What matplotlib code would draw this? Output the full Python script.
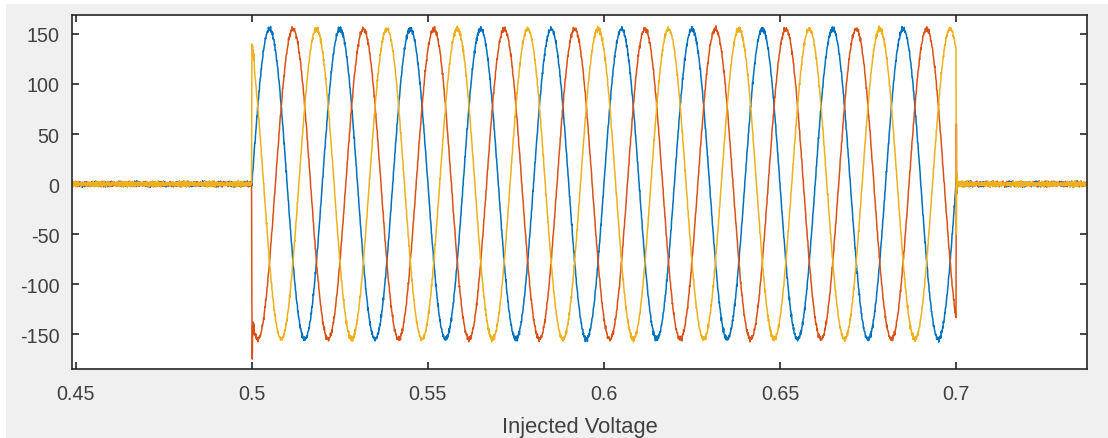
import numpy as np
import matplotlib
matplotlib.use("Agg")
import matplotlib.pyplot as plt
from matplotlib.patches import Rectangle

# Injection window and waveform parameters (seconds, volts, hertz)
t_on = 0.5
t_off = 0.7
amplitude = 155.0
freq = 50.0
phase_shift_deg = [0.0, -120.0, 120.0]
sample_step = 1e-4

# Measurement ripple per phase: amplitudes (V) and frequencies (Hz)
ripple_amp = [[1.4, 1.1, 0.9], [1.3, 1.2, 0.8], [1.5, 1.0, 1.0]]
ripple_freq = [[4871.0, 3317.0, 1973.0], [4793.0, 2941.0, 1187.0], [4937.0, 3701.0, 2203.0]]

# Switching transients: offsets after the event (s) and the recorded values (V)
on_offsets = [0.0, 0.0001, 0.0002, 0.0003, 0.0004, 0.0005, 0.0006]
on_red = [-120.0, -175.0, -142.0, -150.0, -138.0, -146.0, -140.0]
on_yellow = [140.0, 136.0, 138.0, 128.0, 134.0, 124.0, 130.0]
off_offsets = [0.0001, 0.0002, 0.0003, 0.0004, 0.0005]
off_red = [60.0, -10.0, 8.0, -4.0, 2.0]
off_yellow = [-50.0, 12.0, -6.0, 3.0, 0.0]
off_blue = [6.0, -3.0, 2.0, 0.0, 0.0]

xlim = (0.4489, 0.7372)
ylim = (-185, 169)
xticks = [0.45, 0.5, 0.55, 0.6, 0.65, 0.7]
xticklabels = ["0.45", "0.5", "0.55", "0.6", "0.65", "0.7"]
yticks = [-150, -100, -50, 0, 50, 100, 150]
yticklabels = ["-150", "-100", "-50", "0", "50", "100", "150"]
xlabel = "Injected Voltage"

colors = ["#0072BD", "#D95319", "#EDB120"]

t = np.arange(0.4489, 0.7372 + sample_step, sample_step)
active = (t >= t_on) & (t <= t_off)

phases = []
for ph, amps, freqs in zip(phase_shift_deg, ripple_amp, ripple_freq):
    v = np.where(active, amplitude * np.sin(2 * np.pi * freq * (t - t_on) + np.deg2rad(ph)), 0.0)
    ripple = sum(a * np.sin(2 * np.pi * f * t + k) for k, (a, f) in enumerate(zip(amps, freqs)))
    phases.append(v + ripple)


def overlay(v, offsets, values, start):
    for dt, val in zip(offsets, values):
        idx = int(round((start + dt - t[0]) / sample_step))
        if 0 <= idx < len(v):
            v[idx] = val


overlay(phases[1], on_offsets, on_red, t_on)
overlay(phases[2], on_offsets, on_yellow, t_on)
overlay(phases[0], off_offsets, off_blue, t_off)
overlay(phases[1], off_offsets, off_red, t_off)
overlay(phases[2], off_offsets, off_yellow, t_off)

plt.rcParams["font.family"] = ["Liberation Sans", "DejaVu Sans"]
plt.rcParams["axes.unicode_minus"] = False

fig = plt.figure(figsize=(11.08, 4.39), dpi=100, facecolor="#f0f0f0")
fig.patches.append(Rectangle((0, 0.988), 1, 0.012, transform=fig.transFigure,
                             facecolor="white", edgecolor="none", zorder=-1))
fig.patches.append(Rectangle((0, 0), 0.0055, 1, transform=fig.transFigure,
                             facecolor="white", edgecolor="none", zorder=-1))

ax = fig.add_axes([0.065, 0.157, 0.916, 0.8066])
ax.set_facecolor("white")
for v, c in zip(phases, colors):
    ax.plot(t, v, color=c, linewidth=1.1)

ax.set_xlim(*xlim)
ax.set_ylim(*ylim)
ax.set_xticks(xticks)
ax.set_xticklabels(xticklabels)
ax.set_yticks(yticks)
ax.set_yticklabels(yticklabels)
ax.tick_params(direction="in", top=True, right=True, length=5, width=1.2,
               colors="#262626", labelsize=14.2, labelcolor="#404040")
ax.tick_params(axis="x", pad=11)
ax.tick_params(axis="y", pad=9)
for s in ax.spines.values():
    s.set_color("#262626")
    s.set_linewidth(1.2)
ax.set_xlabel(xlabel, fontsize=15.8, color="#404040", labelpad=9)

fig.savefig("out.png", dpi=100, facecolor=fig.get_facecolor())
